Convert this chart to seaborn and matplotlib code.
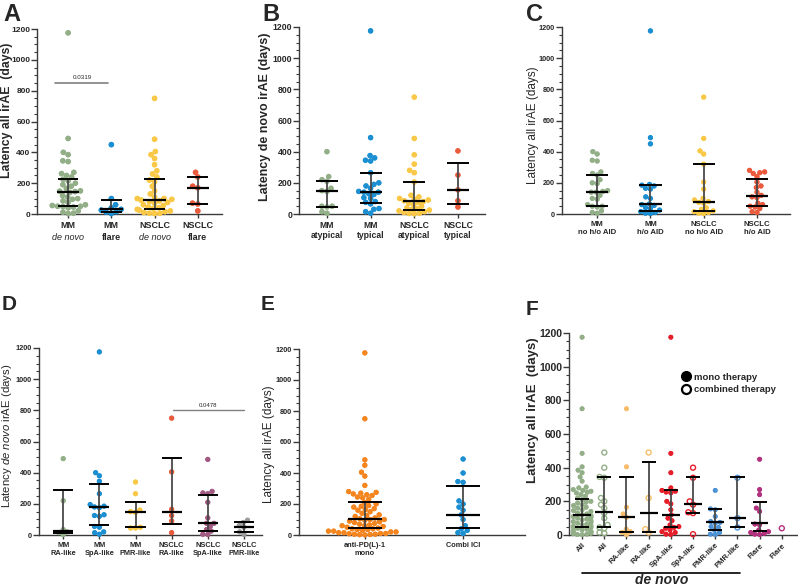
import numpy as np
import pandas as pd
import matplotlib
matplotlib.use("Agg")
import matplotlib.pyplot as plt
import seaborn as sns
from matplotlib.ticker import MultipleLocator
from matplotlib.lines import Line2D
from matplotlib.collections import PathCollection

sns.set_theme(style="ticks")
plt.rcParams["font.family"] = ["Liberation Sans", "DejaVu Sans"]
plt.rcParams["mathtext.fontset"] = "custom"
plt.rcParams["mathtext.rm"] = "Liberation Sans"
plt.rcParams["mathtext.it"] = "Liberation Sans:italic"
plt.rcParams["mathtext.bf"] = "Liberation Sans:bold"

# ---------------- data ----------------
# Panel A
A_line1 = ["MM", "MM", "NSCLC", "NSCLC"]
A_line2 = ["de novo", "flare", "de novo", "flare"]
A_mm_denovo = [1175, 490, 400, 385, 345, 340, 270, 262, 250, 240, 225, 215, 200, 190, 180, 165, 150, 148,
               145, 140, 120, 110, 100, 95, 85, 75, 60, 55, 50, 50, 48, 45, 40, 20, 12, 5, 3]
A_mm_flare = [450, 100, 60, 40, 30, 25, 15, 12, 3]
A_nsclc_denovo = [750, 485, 405, 385, 360, 320, 280, 260, 240, 220, 210, 180, 150, 130, 110, 100, 100, 95,
                  90, 85, 80, 75, 70, 60, 55, 45, 40, 35, 30, 25, 20, 15, 10, 5, 5, 3]
A_nsclc_flare = [270, 240, 180, 170, 70, 65, 20]
A_med = [145, 30, 90, 170]
A_q1 = [50, 12, 35, 65]
A_q3 = [230, 90, 228, 240]

# Panel B
B_labels = ["MM\natypical", "MM\ntypical", "NSCLC\natypical", "NSCLC\ntypical"]
B_mm_atyp = [400, 240, 220, 210, 165, 150, 145, 50, 50, 45, 15, 5]
B_mm_typ = [1175, 490, 375, 360, 345, 340, 265, 200, 190, 180, 165, 145, 140, 140, 130, 125, 105, 100,
            80, 75, 65, 35, 30, 15, 5]
B_nsclc_atyp = [750, 485, 380, 320, 280, 265, 205, 120, 110, 100, 95, 90, 85, 80, 75, 70, 60, 50, 40,
                35, 30, 25, 20, 15, 10, 5, 3, 2]
B_nsclc_typ = [405, 250, 155, 85, 45]
B_med = [148, 143, 85, 155]
B_q1 = [45, 72, 25, 65]
B_q3 = [210, 265, 205, 330]

# Panel C
C_labels = ["MM\nno h/o AID", "MM\nh/o AID", "NSCLC\nno h/o AID", "NSCLC\nh/o AID"]
C_mm_no = [400, 385, 345, 340, 270, 260, 250, 220, 200, 195, 150, 145, 140, 140, 120, 100, 95, 60, 50,
           50, 45, 20, 10, 5]
C_mm_aid = [1175, 490, 450, 190, 185, 180, 165, 160, 110, 100, 65, 60, 55, 40, 35, 25, 15, 10, 5, 3]
C_nsclc_no = [750, 485, 405, 385, 320, 205, 160, 100, 90, 80, 75, 70, 40, 30, 20, 15, 10, 5, 3]
C_nsclc_aid = [280, 270, 265, 260, 240, 205, 180, 170, 140, 120, 110, 105, 70, 60, 50, 45, 35, 15, 10]
C_med = [143, 62, 80, 113]
C_q1 = [50, 22, 20, 50]
C_q3 = [248, 183, 320, 223]

# Panel D
D_labels = ["MM\nRA-like", "MM\nSpA-like", "MM\nPMR-like", "NSCLC\nRA-like", "NSCLC\nSpA-like", "NSCLC\nPMR-like"]
D_mm_ra = [490, 220, 35, 20, 15, 3]
D_mm_spa = [1175, 400, 380, 345, 265, 195, 185, 180, 175, 130, 125, 120, 55, 50, 20, 15, 5]
D_mm_pmr = [340, 265, 160, 150, 145, 50, 45, 45]
D_nsclc_ra = [750, 405, 165, 125, 90, 15]
D_nsclc_spa = [485, 280, 270, 265, 210, 110, 75, 75, 55, 35, 25, 5, 3]
D_nsclc_pmr = [95, 80, 60, 50, 20, 5]
D_med = [25, 177, 150, 146, 75, 54]
D_q1 = [10, 64, 49, 71, 28, 21]
D_q3 = [289, 325, 214, 492, 259, 81]

# Panel E
E_labels = ["anti-PD(L)-1\nmono", "Combi ICI"]
E_mono = [1175, 750, 485, 450, 405, 380, 320, 280, 275, 270, 265, 260, 255, 245, 240, 230, 210, 200, 190,
          185, 180, 170, 165, 160, 150, 140, 130, 125, 120, 110, 105, 100, 100, 95, 90, 85, 80, 75, 70,
          65, 60, 60, 55, 50, 45, 40, 40, 35, 35, 30, 25, 25, 20, 20, 15, 15, 10, 10, 8, 5, 5, 3, 2, 1]
E_combi = [490, 400, 345, 340, 220, 200, 180, 160, 130, 100, 60, 40, 30, 15, 10]
E_med = [103, 131]
E_q1 = [44, 44]
E_q3 = [210, 315]

# Panel F
F_labels = ["All", "All", "RA-like", "RA-like", "SpA-like", "SpA-like", "PMR-like", "PMR-like", "Flare", "Flare"]
F_all_mono = [1175, 750, 485, 405, 385, 370, 345, 320, 285, 280, 270, 265, 260, 255, 250, 240, 230, 220,
              210, 200, 195, 190, 180, 175, 165, 160, 150, 145, 140, 130, 125, 120, 115, 110, 105, 100,
              95, 90, 85, 80, 75, 70, 65, 60, 55, 50, 50, 45, 40, 35, 30, 25, 20, 20, 15, 10, 8, 5, 3, 2]
F_all_comb = [490, 400, 345, 340, 220, 200, 180, 160, 130, 100, 60, 45, 40, 15, 10]
F_ra_mono = [750, 405, 165, 125, 105, 35, 20, 15, 3]
F_ra_comb = [490, 220, 35, 15]
F_spa_mono = [1175, 485, 370, 280, 265, 260, 255, 250, 200, 185, 150, 120, 100, 85, 60, 50, 45, 40, 30,
              20, 15, 5, 3]
F_spa_comb = [400, 340, 200, 180, 135, 130, 5]
F_pmr_mono = [265, 155, 150, 110, 80, 75, 70, 50, 45, 30, 15, 5, 3]
F_pmr_comb = [340, 100, 45]
F_flare_mono = [450, 270, 240, 160, 140, 65, 60, 30, 20, 15, 10, 5, 3]
F_flare_comb = [40]
F_med = [117, 135, 109, 131, 117, 185, 77, 100, 69, np.nan]
F_q1 = [46, 46, 20, 20, 46, 130, 30, 50, 26, np.nan]
F_q3 = [212, 345, 347, 433, 268, 345, 155, 345, 198, np.nan]
F_open = [False, True, False, True, False, True, False, True, False, True]

# colours
SAGE = "#93AF88"
BLUE = "#1B8FD2"
YELLOW = "#F9C846"
REDOR = "#EA5A3C"
MAUVE = "#A35A82"
GRAY = "#9C9C9C"
ORANGE = "#F5861F"
LORANGE = "#F7BD6C"
RED = "#E61E2A"
FBLUE = "#4E92D6"
MAGENTA = "#B2307E"

W, H = 798, 588
fig = plt.figure(figsize=(W / 100, H / 100), dpi=100)


def add_ax(l, t, r, b):
    return fig.add_axes([l / W, 1 - b / H, (r - l) / W, (b - t) / H])


def tighten(coll, factor):
    """Lay the swarm out with smaller virtual markers so dots overlap a little (GraphPad look)."""
    sb_draw = coll.draw

    def draw(renderer):
        big = np.array(coll.get_sizes(), float).copy()
        lw = np.array(coll.get_linewidths(), float).copy()
        coll.set_sizes(big * factor)
        coll.set_linewidths(0)
        sb_draw(renderer)
        coll.set_sizes(big)
        coll.set_linewidths(lw)
        PathCollection.draw(coll, renderer)

    coll.draw = draw


def swarm(ax, groups, colors, size, open_flags=None, factor=0.8):
    keys = [f"g{i}" for i in range(len(groups))]
    df = pd.DataFrame({
        "grp": np.concatenate([[k] * len(g) for k, g in zip(keys, groups)]),
        "val": np.concatenate([np.asarray(g, float) for g in groups]),
    })
    sns.swarmplot(data=df, x="grp", y="val", hue="grp", order=keys, hue_order=keys,
                  palette=dict(zip(keys, colors)), size=size, legend=False, ax=ax,
                  linewidth=0, warn_thresh=1, zorder=3)
    for i, coll in enumerate(ax.collections):
        coll.set_clip_on(False)
        if open_flags is not None and open_flags[i]:
            coll.set_facecolor("none")
            coll.set_edgecolor(colors[i])
            coll.set_linewidth(1.0)
        tighten(coll, factor)


def bars(ax, med, q1, q3, mw, cw):
    med, q1, q3 = (np.asarray(v, float) for v in (med, q1, q3))
    x = np.arange(len(med), dtype=float)
    ok = ~np.isnan(med)
    for art in (ax.vlines(x[ok], q1[ok], q3[ok], color="#4a4a4a", lw=1.3, zorder=5),
                ax.hlines(med[ok], x[ok] - mw, x[ok] + mw, color="black", lw=1.6, zorder=6),
                ax.hlines(q1[ok], x[ok] - cw, x[ok] + cw, color="black", lw=1.4, zorder=6),
                ax.hlines(q3[ok], x[ok] - cw, x[ok] + cw, color="black", lw=1.4, zorder=6)):
        art.set_clip_on(False)


def style(ax, xlim, yfs, ylabel, yl_fs, yl_weight, ylx, yly, pad=1):
    ax.set_ylim(0, 1200)
    ax.set_xlim(*xlim)
    ax.yaxis.set_major_locator(MultipleLocator(200))
    ax.yaxis.set_minor_locator(MultipleLocator(50))
    for s in ("top", "right"):
        ax.spines[s].set_visible(False)
    for s in ("left", "bottom"):
        ax.spines[s].set_color("#3a3a3a")
        ax.spines[s].set_linewidth(1.0)
    ax.tick_params(axis="y", which="major", length=4, width=1, color="#3a3a3a", labelsize=yfs, pad=pad)
    ax.tick_params(axis="y", which="minor", length=2, width=0.8, color="#3a3a3a")
    ax.tick_params(axis="x", which="major", length=3, width=1, color="#3a3a3a", pad=2)
    for t in ax.get_yticklabels():
        t.set_fontweight("bold")
    ax.set_xlabel("")
    ax.set_ylabel(ylabel, fontsize=yl_fs, fontweight=yl_weight)
    ax.yaxis.set_label_coords(ylx, yly)


def set_xlabels(ax, labels, fs, weight="bold", rotation=0):
    ax.set_xticks(range(len(labels)))
    if rotation:
        ax.set_xticklabels(labels, fontsize=fs, fontweight=weight, rotation=rotation,
                           ha="right", rotation_mode="anchor", linespacing=1.1)
    else:
        ax.set_xticklabels(labels, fontsize=fs, fontweight=weight, linespacing=1.15)


# ---------------- Panel A ----------------
axA = add_ax(37, 29, 222, 214)
swarm(axA, [A_mm_denovo, A_mm_flare, A_nsclc_denovo, A_nsclc_flare], [SAGE, BLUE, YELLOW, REDOR], 4.1)
bars(axA, A_med, A_q1, A_q3, 0.26, 0.24)
style(axA, (-0.72, 3.56), 6.0, "Latency all irAE  (days)", 8.8, "bold", -0.132, 0.56, pad=0.6)
set_xlabels(axA, A_line1, 6.5)
for i, (t2, st) in enumerate(zip(A_line2, ["italic", "bold", "italic", "bold"])):
    axA.annotate(t2, xy=(i, 0), xycoords=("data", "axes fraction"), xytext=(0, -13.5),
                 textcoords="offset points", ha="center", va="top", fontsize=6.5,
                 fontstyle="italic" if st == "italic" else "normal",
                 fontweight="bold" if st == "bold" else "normal")
axA.plot([-0.3, 0.93], [850, 850], color="#808080", lw=1.2)
axA.text(0.32, 872, "0.0319", fontsize=4.5, ha="center", va="bottom")

# ---------------- Panel B ----------------
axB = add_ax(299, 27, 485, 214)
swarm(axB, [B_mm_atyp, B_mm_typ, B_nsclc_atyp, B_nsclc_typ], [SAGE, BLUE, YELLOW, REDOR], 4.0)
bars(axB, B_med, B_q1, B_q3, 0.25, 0.25)
style(axB, (-0.64, 3.62), 6.3, "Latency de novo irAE (days)", 9, "bold", -0.15, 0.52)
set_xlabels(axB, B_labels, 6.2)

# ---------------- Panel C ----------------
axC = add_ax(562, 27, 790, 214)
swarm(axC, [C_mm_no, C_mm_aid, C_nsclc_no, C_nsclc_aid], [SAGE, BLUE, YELLOW, REDOR], 3.8)
bars(axC, C_med, C_q1, C_q3, 0.21, 0.21)
style(axC, (-0.66, 3.62), 5.2, "Latency all irAE (days)", 8.5, "normal", -0.1, 0.476)
set_xlabels(axC, C_labels, 5.6)

# ---------------- Panel D ----------------
axD = add_ax(39, 348, 262, 535)
swarm(axD, [D_mm_ra, D_mm_spa, D_mm_pmr, D_nsclc_ra, D_nsclc_spa, D_nsclc_pmr],
      [SAGE, BLUE, YELLOW, REDOR, MAUVE, GRAY], 3.8)
bars(axD, D_med, D_q1, D_q3, 0.28, 0.28)
style(axD, (-0.67, 5.5), 5.3, r"Latency $\it{de\ novo}$ irAE (days)", 8.2, "normal", -0.11, 0.53)
set_xlabels(axD, D_labels, 5.3)
axD.plot([3.03, 5.0], [800, 800], color="#808080", lw=1.0)
axD.text(4.0, 818, "0.0478", fontsize=4.3, ha="center", va="bottom")

# ---------------- Panel E ----------------
axE = add_ax(299, 349, 525, 535)
swarm(axE, [E_mono, E_combi], [ORANGE, BLUE], 3.8, factor=0.9)
bars(axE, E_med, E_q1, E_q3, 0.17, 0.17)
style(axE, (-0.67, 1.63), 5.3, "Latency all irAE (days)", 8.5, "normal", -0.108, 0.49)
set_xlabels(axE, E_labels, 5.3)

# ---------------- Panel F ----------------
axF = add_ax(569, 333, 798, 535)
swarm(axF, [F_all_mono, F_all_comb, F_ra_mono, F_ra_comb, F_spa_mono, F_spa_comb,
            F_pmr_mono, F_pmr_comb, F_flare_mono, F_flare_comb],
      [SAGE, SAGE, LORANGE, LORANGE, RED, RED, FBLUE, FBLUE, MAGENTA, MAGENTA], 3.6,
      open_flags=F_open, factor=0.85)
bars(axF, F_med, F_q1, F_q3, 0.4, 0.32)
style(axF, (-0.59, 9.73), 7.5, "Latency all irAE  (days)", 9.5, "bold", -0.13, 0.62)
set_xlabels(axF, F_labels, 5.6, rotation=45)
axF.plot([0.0, 7.1], [-0.19, -0.19], transform=axF.get_xaxis_transform(), color="black",
         lw=1.2, clip_on=False)
axF.text(3.6, -0.245, "de novo", transform=axF.get_xaxis_transform(), fontsize=10,
         fontweight="bold", fontstyle="italic", ha="center", va="baseline")
handles = [Line2D([], [], marker="o", ls="none", color="black", markersize=7),
           Line2D([], [], marker="o", ls="none", markerfacecolor="none", markeredgecolor="black",
                  markeredgewidth=1.6, markersize=6.5)]
axF.legend(handles, ["mono therapy", "combined therapy"], loc="upper left",
           bbox_to_anchor=(676 / W, 1 - 368 / H), bbox_transform=fig.transFigure, frameon=False,
           prop={"weight": "bold", "size": 6.8}, handletextpad=0.2, labelspacing=0.4,
           borderpad=0, handlelength=1.2)

# ---------------- panel letters ----------------
for lab, x, y, fs in [("A", 3, 3, 17), ("B", 262, 3, 17), ("C", 526, 3, 17),
                      ("D", 2, 295, 15), ("E", 261, 295, 15), ("F", 526, 300, 15)]:
    fig.text(x / W, 1 - y / H, lab, fontsize=fs, fontweight="bold", ha="left", va="top")

fig.savefig("out.png", dpi=100)
